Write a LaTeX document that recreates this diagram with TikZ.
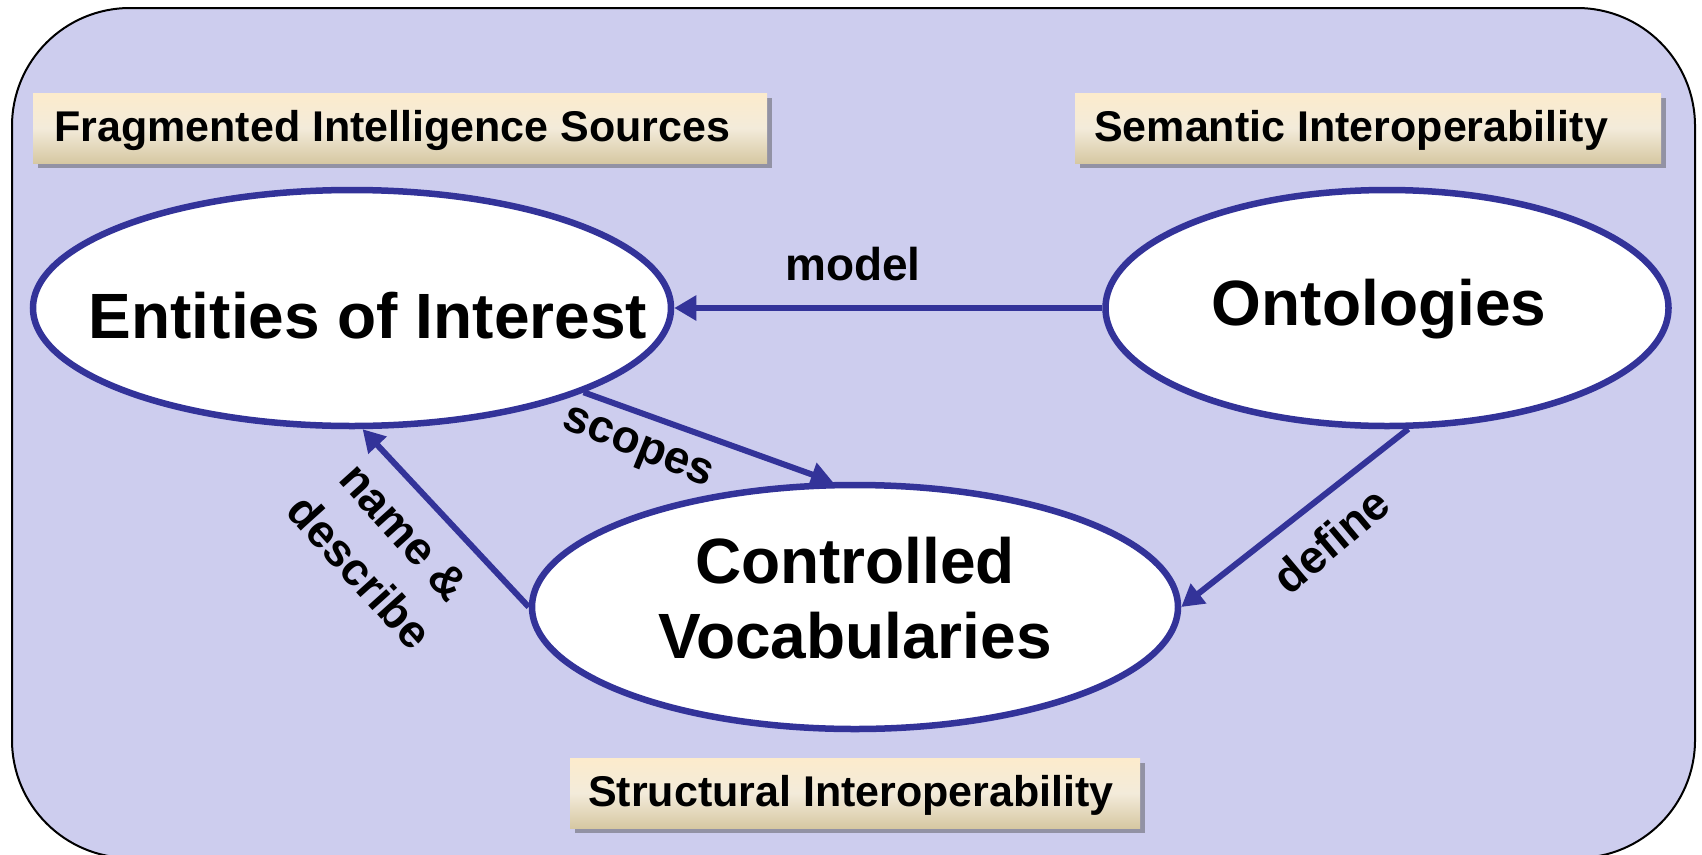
\documentclass[tikz,border=0pt]{standalone}
\usepackage{fontspec}
\setmainfont{Liberation Sans}
\usetikzlibrary{shapes.geometric,arrows.meta,shadows}
\definecolor{bgfill}{HTML}{CDCDEE}
\definecolor{edgeblue}{HTML}{333399}
\definecolor{boxtop}{HTML}{FCEBCC}
\definecolor{boxmid}{HTML}{F3EBDA}
\definecolor{boxbot}{HTML}{D6C8A2}
\tikzset{
  ell/.style={ellipse, draw=edgeblue, line width=6.5pt, fill=white, inner sep=0pt},
  elltext/.style={font=\fontsize{64}{75}\selectfont\bfseries, inner sep=0pt},
  tag/.style={rectangle, inner sep=0pt, minimum height=70pt, anchor=north west,
    top color=boxtop, bottom color=boxbot, middle color=boxmid,
    drop shadow={shadow xshift=5pt, shadow yshift=-5pt, opacity=0.45, fill=black!70}},
  tagtext/.style={anchor=west, font=\fontsize{43}{50}\selectfont\bfseries, inner sep=0pt},
  conn/.style={draw=edgeblue, line width=6pt, -{Triangle[length=22pt,width=24pt]}},
  lab/.style={font=\fontsize{46}{60}\selectfont\bfseries, align=center, inner sep=0pt}
}
\begin{document}
\begin{tikzpicture}[x=1pt,y=-1pt]
\useasboundingbox (0,0) rectangle (1702,854);
\path[clip] (0,0) rectangle (1702,854);
\draw[fill=bgfill, line width=2pt, rounded corners=118pt] (12,8) rectangle (1695,858);

% label boxes
\node[tag, minimum width=734pt] (fragbox) at (33,93) {};
\node[tagtext] (frag) at (54,130) {Fragmented Intelligence Sources};
\node[tag, minimum width=586pt] (sembox) at (1075,93) {};
\node[tagtext] (sem) at (1094,130) {Semantic Interoperability};
\node[tag, minimum width=570pt] (strbox) at (570,758) {};
\node[tagtext] (str) at (588,795) {Structural Interoperability};

% ellipses
\node[ell, minimum width=638pt, minimum height=236pt] (ent) at (352,308) {};
\node[ell, minimum width=563pt, minimum height=236pt] (ont) at (1387,308) {};
\node[ell, minimum width=646pt, minimum height=244pt] (cv) at (855,607) {};
\node[elltext] (enttext) at (368,316) {Entities of Interest};
\node[elltext] (onttext) at (1379,309) {Ontologies};
\node[elltext, align=center] (cvtext) at (855,598) {Controlled\\Vocabularies};

% connectors
\draw[conn] (ont.180) -- (ent.0);
\draw[conn] (ent.-20) -- (cv.100);
\draw[conn] (cv.180) -- (ent.-85);
\draw[conn] (ont.-80) -- (cv.0);

% connector labels
\node[lab] (lmodel) at (853,264) {model};
\node[lab, rotate=-22] (lscopes) at (637,450) {scopes};
\node[lab, rotate=-48] (lname) at (382,552) {name \&\\describe};
\node[lab, rotate=40] (ldefine) at (1331,540) {define};
\end{tikzpicture}
\end{document}
